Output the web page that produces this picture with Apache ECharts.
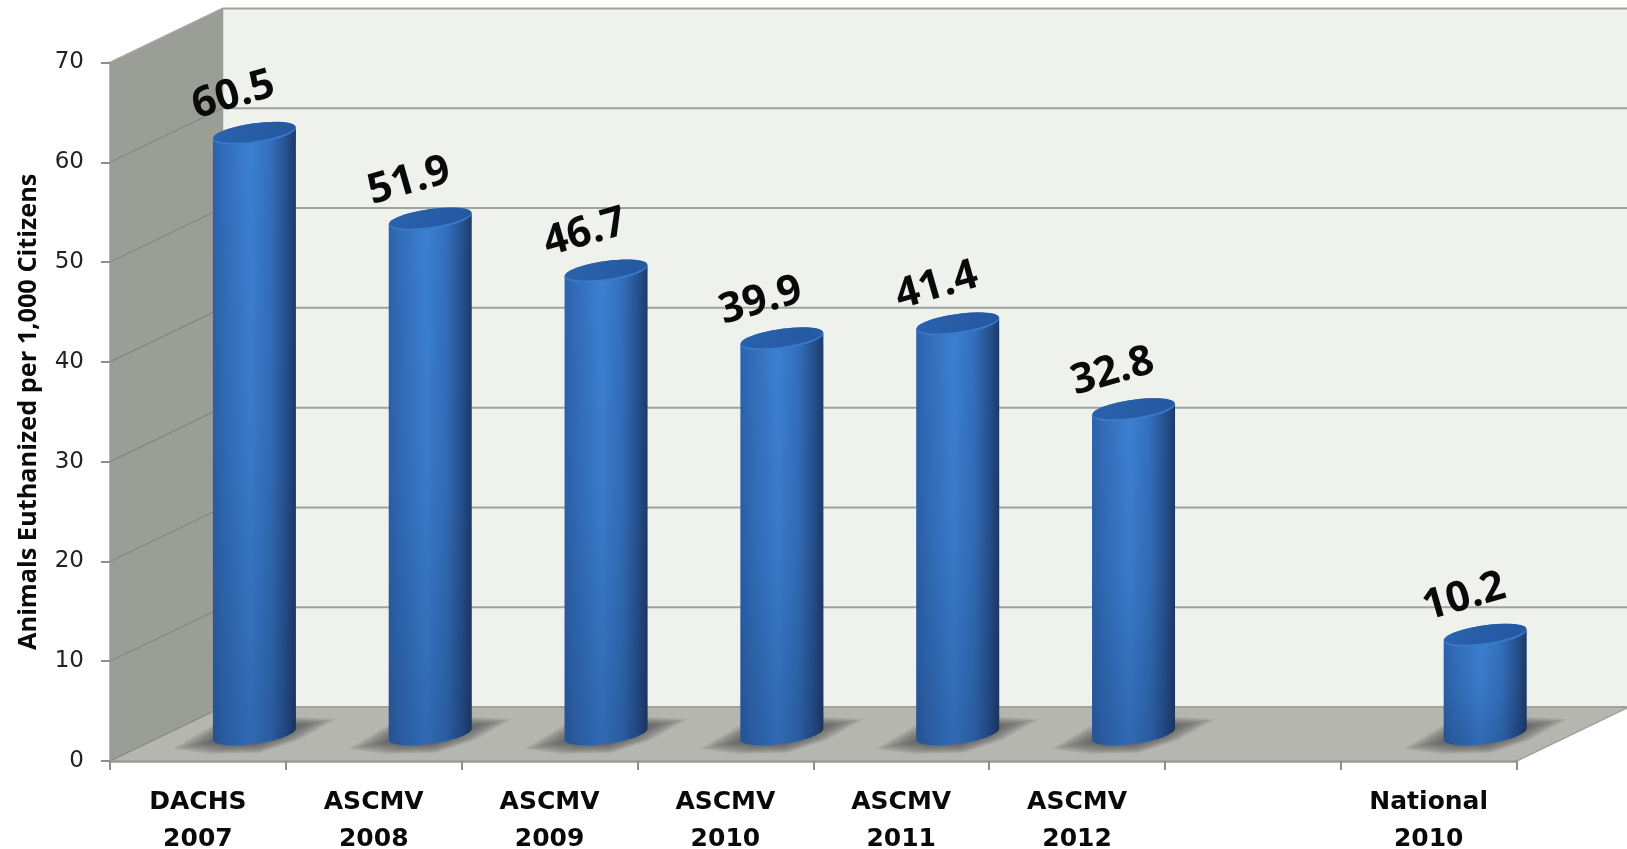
<!DOCTYPE html>
<html><head><meta charset="utf-8">
<style>html,body{margin:0;padding:0;background:#fff}#c{width:1627px;height:849px}</style>
<script src="https://cdn.jsdelivr.net/npm/echarts@6/dist/echarts.min.js"></script>
</head><body><div id="c"></div>
<script>
const categories = ['DACHS\n2007','ASCMV\n2008','ASCMV\n2009','ASCMV\n2010','ASCMV\n2011','ASCMV\n2012','','National\n2010'];
const values = [60.5,51.9,46.7,39.9,41.4,32.8,null,10.2];
const yTicks = [0,10,20,30,40,50,60,70];
const yTitle = 'Animals Euthanized per 1,000 Citizens';

const DX = 112.5, DY = -54;
const HALF_W = 41.5;
const ell = (cx, cy, a, b, s, from, to, n) => {
  const pts = [];
  for (let k = 0; k <= n; k++) {
    const t = from + (to - from) * k / n;
    pts.push([cx + a * Math.cos(t), cy - s * Math.cos(t) + b * Math.sin(t)]);
  }
  return pts;
};
const grad = (x, y, x2, y2, stops) => ({type:'linear', x, y, x2, y2, global:false,
  colorStops: stops.map(s => ({offset:s[0], color:s[1]}))});

function renderWalls(params, api) {
  const cs = params.coordSys;
  const L = cs.x, R = cs.x + cs.width;
  const y0 = api.coord([0, 0])[1], yT = api.coord([0, 70])[1];
  const kids = [];
  const poly = (points, fill) => kids.push({type:'polygon', shape:{points}, style:{fill}});
  const line = (x1,y1,x2,y2,stroke,w) => kids.push({type:'line', shape:{x1,y1,x2,y2}, style:{stroke, lineWidth:w}});
  poly([[L+DX,yT+DY],[R+DX+10,yT+DY],[R+DX+10,y0+DY],[L+DX,y0+DY]], '#eff1ed');
  poly([[L,yT],[L+DX,yT+DY],[L+DX,y0+DY],[L,y0]], '#9b9d97');
  poly([[L,y0],[L+DX,y0+DY],[R+DX,y0+DY],[R,y0]], '#b4b6af');
  yTicks.forEach(t => {
    const y = api.coord([0, t])[1];
    if (t > 0) line(L, y, L+DX, y+DY, t === 70 ? '#a2a49e' : '#84867f', t === 70 ? 1.5 : 1.2);
    line(L+DX, y+DY, R+DX+10, y+DY, '#a0a29c', 2);
  });
  line(L, y0, L+DX, y0+DY, '#84867f', 1.2);
  line(R, y0, R+DX, y0+DY, '#a0a29c', 1.5);
  line(L+DX, yT+DY, L+DX, y0+DY, '#9a9c96', 1.5);
  return {type:'group', children:kids};
}

function renderBar(params, api) {
  const i = api.value(0), v = api.value(1);
  const top = api.coord([i, v]), base = api.coord([i, 0]);
  const cx = top[0] + 56.5;
  const by = base[1] - 27, ty = top[1] - 24;
  const a = HALF_W, b = 10, s = 5.5;
  const lower = ell(cx, by, a, b, s, 0, Math.PI, 32);
  const bodyPts = [[cx+a, ty-s]].concat(lower, [[cx-a, ty+s]]);
  const bodyFill = grad(0,0,1,0,[[0,'#2c62ab'],[0.12,'#316cb8'],[0.45,'#3c80d1'],[0.7,'#326fbc'],[0.88,'#27528f'],[1,'#1c3b69']]);
  const shade = grad(0,0,0,1,[[0,'rgba(10,25,60,0)'],[0.5,'rgba(10,25,60,0.06)'],[1,'rgba(10,25,60,0.22)']]);
  const label = {
    type:'text', x:cx-21, y:ty-38, rotation:16*Math.PI/180, z2:5,
    style:{text:v.toFixed(1), fill:'#0a0a0a', font:'bold 42px "Open Sans"', align:'center', verticalAlign:'middle'}
  };
  const shadows = [];
  const shadowShape = [[-82,15],[-42,-9],[42,-17],[82,-15],[45,6],[5,19],[-45,20]];
  for (let k = 0; k < 14; k++) {
    const f = 1 - 0.55 * k / 13;
    shadows.push({type:'polygon',
      shape:{points:shadowShape.map(p => [cx + p[0]*f, by + p[1]*f])},
      style:{fill:'rgba(60,60,58,0.08)'}});
  }
  return {type:'group', children:shadows.concat([
    {type:'polygon', shape:{points:bodyPts}, style:{fill:bodyFill}},
    {type:'polygon', shape:{points:bodyPts}, style:{fill:shade}},
    {type:'polygon', shape:{points:ell(cx, ty, a, b, s, 0, 2*Math.PI, 48)}, style:{fill:'#3a7aca'}},
    {type:'polygon', shape:{points:ell(cx, ty-1, a-0.5, b-1, s, 0, 2*Math.PI, 48)},
      style:{fill:grad(0,0,1,1,[[0,'#2a62ae'],[1,'#24589f']])}},
    label
  ])};
}

const chart = echarts.init(document.getElementById('c'), null, {renderer:'canvas'});
chart.setOption({
  animation:false,
  backgroundColor:'#fff',
  grid:{left:110, right:110.4, top:62.5, bottom:88, containLabel:false, outerBoundsMode:'none'},
  xAxis:{
    type:'category', data:categories, z:5,
    axisLine:{lineStyle:{color:'#9a9c96', width:2.5}},
    axisTick:{show:true, length:9, alignWithLabel:false, interval:0, lineStyle:{color:'#8e8e8e', width:2}},
    axisLabel:{interval:0, margin:23, color:'#0a0a0a', fontFamily:'DejaVu Sans', fontWeight:'bold', fontSize:25, lineHeight:37}
  },
  yAxis:{
    type:'value', min:0, max:70, interval:10, z:5,
    name:yTitle, nameLocation:'middle', nameGap:69, nameRotate:90,
    nameTextStyle:{color:'#0a0a0a', fontFamily:'Open Sans', fontWeight:'bold', fontSize:25.3},
    axisLine:{show:true, lineStyle:{color:'#9a9c96', width:1.5}},
    axisTick:{show:true, length:9, lineStyle:{color:'#8e8e8e', width:2}},
    splitLine:{show:false},
    axisLabel:{margin:26, color:'#222', fontFamily:'DejaVu Sans', fontSize:23, padding:[6,0,0,0],
      verticalAlignMinLabel:'middle', verticalAlignMaxLabel:'middle'}
  },
  series:[
    {type:'custom', z:1, silent:true, renderItem:renderWalls, data:[[0,0]], encode:{x:0,y:1}},
    {type:'custom', z:10, renderItem:renderBar, encode:{x:0,y:1},
     data:values.map((v,i)=>[i,v]).filter(d=>d[1]!==null)}
  ]
});
</script></body></html>
